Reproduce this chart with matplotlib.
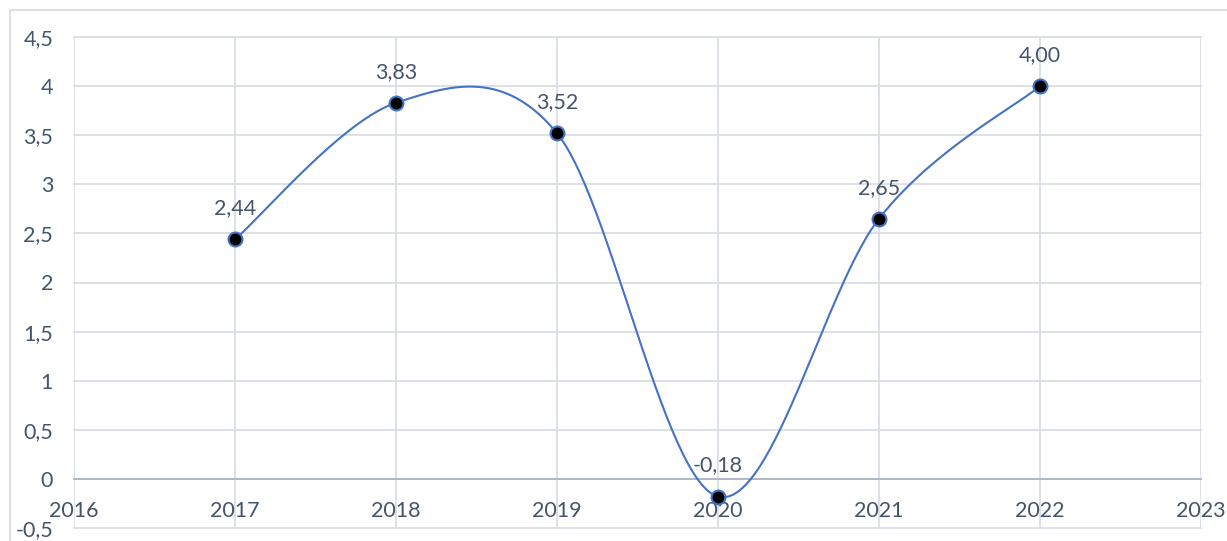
import numpy as np
import matplotlib
matplotlib.use("Agg")
import matplotlib.pyplot as plt
from matplotlib.patches import Rectangle

years = [2017, 2018, 2019, 2020, 2021, 2022]
values = [2.44, 3.83, 3.52, -0.18, 2.65, 4.00]
labels = ["2,44", "3,83", "3,52", "-0,18", "2,65", "4,00"]
xticks = [2016, 2017, 2018, 2019, 2020, 2021, 2022, 2023]
yticks = [-0.5, 0, 0.5, 1, 1.5, 2, 2.5, 3, 3.5, 4, 4.5]
ytick_labels = ["-0,5", "0", "0,5", "1", "1,5", "2", "2,5", "3", "3,5", "4", "4,5"]

TEXT = "#44546A"
GRID = "#D9DEE6"
AXIS = "#AAB4C4"
LINE = "#4472C4"
FS = 15.5

plt.rcParams['font.family'] = ['Lato', 'DejaVu Sans']

def excel_smooth(xs, ys, n=60):
    P = np.column_stack([xs, ys]).astype(float)
    m = len(P)
    out = []
    for i in range(m - 1):
        p0 = P[i - 1] if i > 0 else P[i]
        p1 = P[i]
        p2 = P[i + 1]
        p3 = P[i + 2] if i + 2 < m else P[i + 1]
        c1 = p1 + (p2 - p0) / 6.0
        c2 = p2 - (p3 - p1) / 6.0
        t = np.linspace(0, 1, n)[:, None]
        seg = ((1 - t) ** 3) * p1 + 3 * ((1 - t) ** 2) * t * c1 + 3 * (1 - t) * t ** 2 * c2 + t ** 3 * p2
        out.append(seg if i == 0 else seg[1:])
    out = np.vstack(out)
    return out[:, 0], out[:, 1]

fig = plt.figure(figsize=(12.27, 5.41), dpi=100)
fig.patches.append(Rectangle((10 / 1227, -0.1), 1.2, 1 - 10 / 541 + 0.1,
                             transform=fig.transFigure, fill=False,
                             edgecolor="#D9D9D9", lw=1.2))
ax = fig.add_axes([74 / 1227, 1 - 528 / 541, (1201 - 74) / 1227, (528 - 37) / 541])

ax.set_xlim(2016, 2023)
ax.set_ylim(-0.5, 4.5)
ax.set_xticks(xticks)
ax.set_xticklabels([str(x) for x in xticks])
ax.set_yticks(yticks)
ax.set_yticklabels(ytick_labels)
ax.grid(True, color=GRID, lw=1.3)
for gl in ax.get_xgridlines() + ax.get_ygridlines():
    gl.set_clip_on(False)
ax.set_axisbelow(True)

for s in ["top", "right", "left"]:
    ax.spines[s].set_visible(False)
ax.spines["bottom"].set_position(("data", 0))
ax.spines["bottom"].set_color(AXIS)
ax.spines["bottom"].set_linewidth(1.3)
ax.tick_params(axis="both", length=0, labelsize=FS, labelcolor=TEXT)
ax.tick_params(axis="x", pad=16)
ax.tick_params(axis="y", pad=15)

sx, sy = excel_smooth(years, values)
ax.plot(sx, sy, color=LINE, lw=1.5, zorder=3, clip_on=False)
ax.plot(years, values, ls="none", marker="o", ms=10, mfc="black", mec=LINE,
        mew=1.5, zorder=4, clip_on=False)

for x, y, lab in zip(years, values, labels):
    ax.annotate(lab, (x, y), xytext=(0, 18), textcoords="offset points",
                ha="center", va="baseline", fontsize=FS, color=TEXT, zorder=5)

fig.savefig("out.png", dpi=100)
